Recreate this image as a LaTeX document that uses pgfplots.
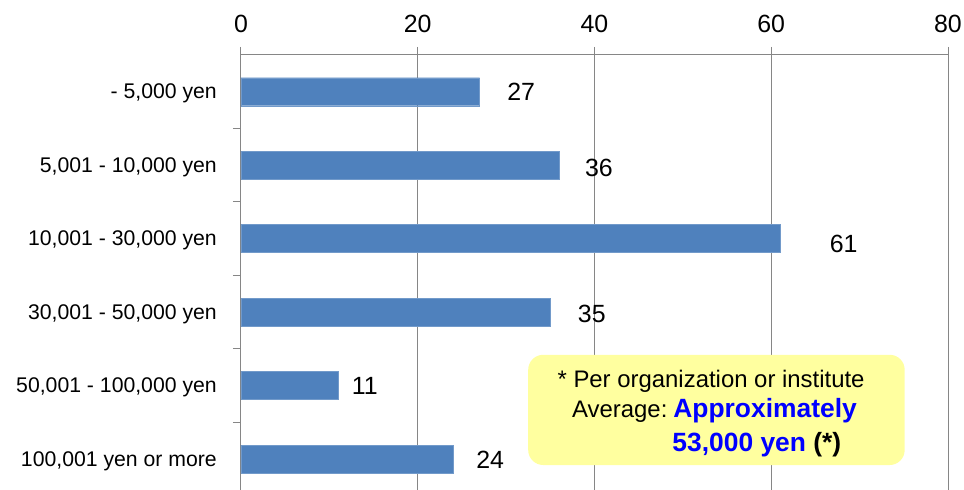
\documentclass[border=0pt]{standalone}
\usepackage{pgfplots}
\pgfplotsset{compat=1.18}
\usepackage{fontspec}
\setmainfont{Liberation Sans}
\definecolor{barblue}{HTML}{4F81BD}
\definecolor{axgray}{HTML}{868686}
\definecolor{boxyellow}{HTML}{FFFF9F}
\begin{document}
\begin{tikzpicture}
\begin{axis}[
  name=ax,
  xbar,
  scale only axis,
  width=707bp, height=435bp,
  xmin=0, xmax=80,
  ymin=-0.42, ymax=5.5,
  bar width=28bp,
  axis x line*=top,
  axis y line*=left,
  axis line style={axgray, line width=1pt, -},
  xtick={0,20,40,60,80},
  xmajorgrids,
  grid style={axgray, line width=1pt},
  x tick style={axgray, line width=1pt},
  tick align=outside,
  major tick length=8bp,
  /pgf/number format/assume math mode=true,
  xticklabel style={font=\fontsize{25}{30}\selectfont, inner sep=0pt, yshift=14bp},
  ytick={0,1,2,3,4,5},
  yticklabels={100{,}001 yen or more, 50{,}001 - 100{,}000 yen, 30{,}001 - 50{,}000 yen, 10{,}001 - 30{,}000 yen, 5{,}001 - 10{,}000 yen, - 5{,}000 yen},
  yticklabel style={font=\fontsize{21.3}{25}\selectfont, inner sep=0pt, anchor=east, xshift=-16bp, yshift=-2bp},
  y tick style={draw=none},
  extra y ticks={0.5,1.5,2.5,3.5,4.5},
  extra y tick labels={},
  extra y tick style={y tick style={draw=axgray, line width=1pt}, major tick length=8bp, tick align=outside},
  clip=false,
]
\addplot[fill=barblue, draw=barblue!80!white] coordinates {
  (24,0) (11,1) (35,2) (61,3) (36,4) (27,5)
};
\begin{scope}[every node/.style={font=\fontsize{25}{30}\selectfont, inner sep=0pt}]
\node at (axis cs:31.7,5.0) {27};
\node at (axis cs:40.5,3.965) {36};
\node at (axis cs:68.2,2.93) {61};
\node at (axis cs:39.7,1.98) {35};
\node at (axis cs:14.0,1.0) {11};
\node at (axis cs:28.2,-0.01) {24};
\end{scope}
\fill[boxyellow, rounded corners=15bp] (axis cs:32.5,1.42) rectangle (axis cs:75.1,-0.08);
\begin{scope}[every node/.style={font=\fontsize{24}{28}\selectfont, inner sep=0pt, anchor=base west}]
\node at (axis cs:35.8,0.97) {* Per organization or institute};
\node at (axis cs:37.45,0.56) {Average:\hspace{0.25em}\textcolor{blue}{\fontsize{26.5}{30}\selectfont\bfseries Approximately}};
\node at (axis cs:48.8,0.10) {\fontsize{26.5}{30}\selectfont\bfseries\textcolor{blue}{53,000 yen} (*)};
\end{scope}
\end{axis}
\pgfresetboundingbox
\path[use as bounding box] ([xshift=-241bp]ax.south west) rectangle ++(964bp,490bp);
\end{tikzpicture}
\end{document}
